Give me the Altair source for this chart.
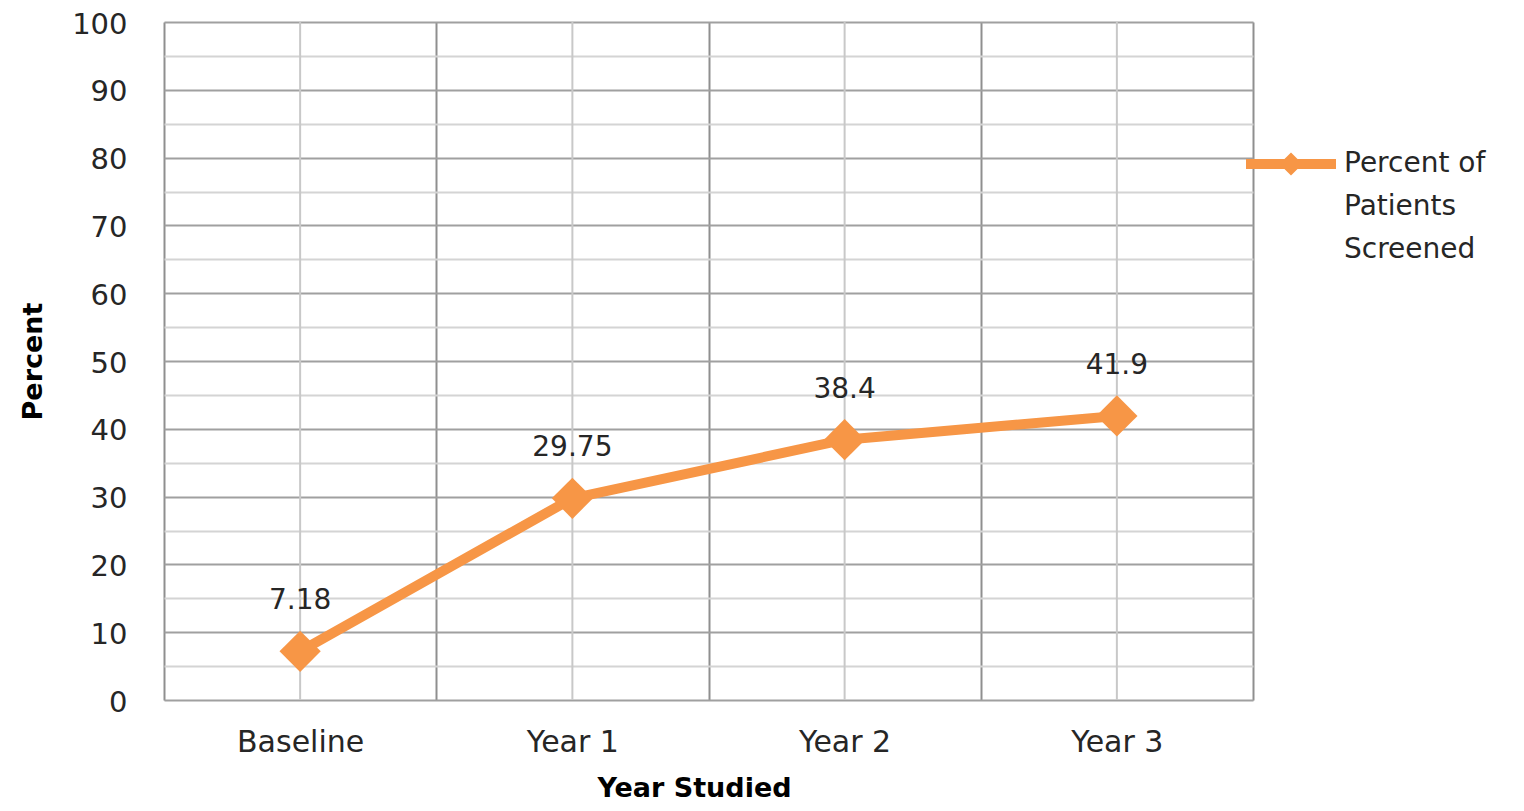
import altair as alt
import pandas as pd

categories = ["Baseline", "Year 1", "Year 2", "Year 3"]
percent_values = [7.18, 29.75, 38.4, 41.9]
series_name = "Percent of\nPatients\nScreened"
y_tick_values = list(range(0, 101, 5))

df = pd.DataFrame({
    "cat": categories,
    "value": percent_values,
    "series": [series_name] * len(categories),
})

ORANGE = "#F79646"
TEXT = "#262626"
FONT = "DejaVu Sans"

x_enc = alt.X(
    "cat:N",
    sort=categories,
    bandPosition=0.5,
    scale=alt.Scale(type="band", paddingInner=0, paddingOuter=0),
    axis=alt.Axis(
        title="Year Studied",
        labelAngle=0,
        tickBand="extent",
        grid=True,
        gridColor="#8f8f8f",
        gridWidth=2,
        ticks=False,
        tickSize=0,
        domain=False,
        labelFont=FONT,
        labelFontSize=30,
        labelColor=TEXT,
        labelBaseline="top",
        labelPadding=27,
        titleFont=FONT,
        titleFontSize=27,
        titleFontWeight="bold",
        titleColor="#000000",
        titleX=530,
        titleY=75,
        titleBaseline="top",
    ),
)

y_enc = alt.Y(
    "value:Q",
    scale=alt.Scale(domain=[0, 100], nice=False),
    axis=alt.Axis(
        title="Percent",
        values=y_tick_values,
        labelExpr="datum.value % 10 === 0 ? datum.label : ''",
        gridColor={"condition": {"test": "datum.value % 10 === 0", "value": "#a0a0a0"}, "value": "#d4d4d4"},
        gridWidth=2,
        ticks=False,
        tickSize=0,
        domain=False,
        labelFont=FONT,
        labelFontSize=29,
        labelColor=TEXT,
        labelPadding=37,
        labelOffset=2,
        titleFont=FONT,
        titleFontSize=27,
        titleFontWeight="bold",
        titleColor="#000000",
        titleBaseline="alphabetic",
        titleX=-123,
    ),
)

base = alt.Chart(df)

center_rules = base.mark_rule(color="#c8c8c8", strokeWidth=2).encode(x=x_enc)

legend_path = "M-1,0L1,0M-0.1,0L0,-0.1L0.1,0L0,0.1Z"

line = base.mark_line(strokeWidth=10, strokeJoin="round", strokeCap="round").encode(
    x=x_enc,
    y=y_enc,
    color=alt.Color(
        "series:N",
        scale=alt.Scale(domain=[series_name], range=[ORANGE]),
        legend=alt.Legend(
            title=None,
            orient="none",
            legendX=1077,
            legendY=92,
            padding=0,
            symbolType=legend_path,
            symbolSize=8100,
            symbolStrokeWidth=10,
            labelFont=FONT,
            labelFontSize=28,
            labelColor=TEXT,
            labelLimit=600,
            labelOffset=3,
            labelExpr="split(datum.label, '\\n')",
        ),
    ),
)

points = base.mark_point(shape="diamond", filled=True, size=1700, color=ORANGE, opacity=1).encode(
    x=x_enc, y=y_enc
)

labels = base.mark_text(dy=-50, font=FONT, fontSize=28, color=TEXT).encode(
    x=x_enc, y=y_enc, text=alt.Text("value:Q", format="~g")
)

chart = (
    alt.layer(center_rules, line, points, labels)
    .properties(
        width=1089,
        height=678,
        autosize=alt.AutoSizeParams(type="none"),
        padding={"left": 156, "top": 14, "right": 263, "bottom": 103},
    )
    .configure_view(stroke="#9a9a9a", strokeWidth=2)
    .configure(style={"guide-label": {"lineHeight": 43}})
)

chart.save("out.html", embed_options={"renderer": "svg", "actions": False})
